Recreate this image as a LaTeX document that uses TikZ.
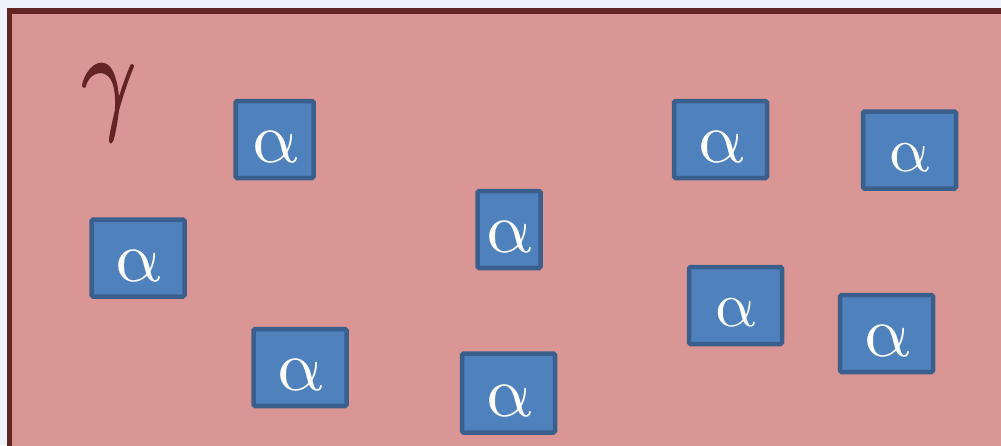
\documentclass[tikz,border=0pt]{standalone}
\usepackage{fontspec}
\setmainfont{Liberation Serif}
\newfontfamily\greekfont{Latin Modern Math}
\newfontfamily\setnamefont[FakeBold=1.6]{Latin Modern Math}
\definecolor{pagebg}{HTML}{EEF2F9}
\definecolor{setfill}{HTML}{D99694}
\definecolor{setline}{HTML}{632523}
\definecolor{elfill}{HTML}{4F81BD}
\definecolor{elline}{HTML}{3A5F8C}
\tikzset{
  element/.style={draw=elline, fill=elfill, line width=4.5pt, rounded corners=1.5pt,
    text=white, inner sep=0pt, text depth=0pt,
    minimum width=#1, minimum height=77pt},
  element/.default=93pt,
  big/.style={font=\greekfont\fontsize{72}{72}\selectfont, text height=46pt},
  small/.style={font=\greekfont\fontsize{64}{64}\selectfont, text height=42pt},
}
\begin{document}
\begin{tikzpicture}[x=1pt,y=-1pt]
  % canvas
  \fill[pagebg] (0,0) rectangle (1001,445);
  \useasboundingbox (0,0) rectangle (1001,445);
  % the set gamma, running past the right and bottom edges
  \draw[fill=setfill, draw=setline, line width=5.5pt] (9.5,11) rectangle (1012,460);
  \node[text=setline, inner sep=0pt, xscale=0.8, font=\setnamefont\fontsize{120}{120}\selectfont] (gamma) at (106,103) {𝛾};
  % elements alpha
  \node[element=78pt, big]  (a1) at (274.5,139.5) {α};
  \node[element,      big]  (a2) at (138,258)     {α};
  \node[element,      big]  (a3) at (300,367.5)   {α};
  \node[element=63pt, big]  (a4) at (509,229.5)   {α};
  \node[element,      big, minimum height=79pt] (a5) at (508.5,393) {α};
  \node[element,      big]  (a6) at (720.5,139.5) {α};
  \node[element,      small] (a7) at (909.5,150)  {α};
  \node[element,      small] (a8) at (735.5,305.5) {α};
  \node[element,      big]  (a9) at (886.5,333.5) {α};
\end{tikzpicture}
\end{document}
